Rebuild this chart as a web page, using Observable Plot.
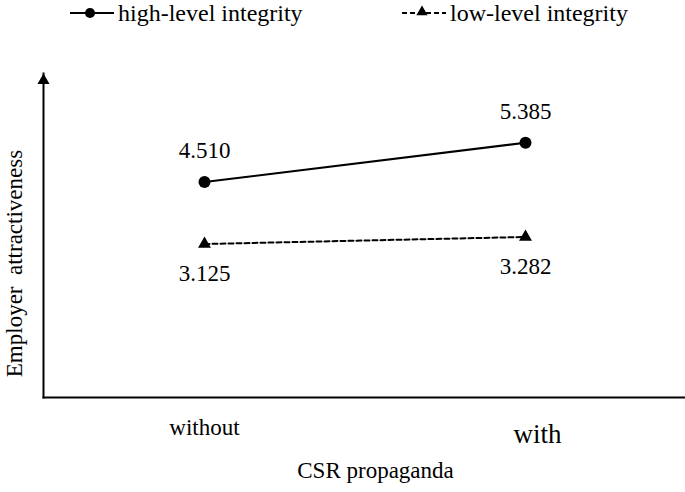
<!DOCTYPE html>
<html>
<head>
<meta charset="utf-8">
<script src="https://cdn.jsdelivr.net/npm/d3@7"></script>
<script src="https://cdn.jsdelivr.net/npm/@observablehq/plot@0.6"></script>
<style>
  html, body { margin: 0; padding: 0; background: #fff; }
  body { width: 685px; height: 492px; overflow: hidden; font-family: "Liberation Serif", "DejaVu Serif", serif; }
  #legend { position: relative; height: 30px; width: 685px; }
  .item { position: absolute; top: 0; height: 26px; display: flex; align-items: center; }
  .item span { font-size: 24px; color: #000; line-height: 26px; }
  #chart svg { display: block; }
  #chart svg text { font-family: "Liberation Serif", serif; font-variant: normal; }
</style>
</head>
<body>
<div id="legend"></div>
<div id="chart"></div>
<script>
// ---- data ----
const conditions = ["without", "with"];
const seriesNames = ["high-level integrity", "low-level integrity"];
const highValues = [4.510, 5.385];
const lowValues = [3.125, 3.282];
const xTitle = "CSR propaganda";
const yTitle = "Employer  attractiveness";

const rows = [
  ...conditions.map((c, i) => ({condition: c, series: seriesNames[0], value: highValues[i]})),
  ...conditions.map((c, i) => ({condition: c, series: seriesNames[1], value: lowValues[i]}))
];
const high = rows.filter(d => d.series === seriesNames[0]);
const low = rows.filter(d => d.series === seriesNames[1]);
const fmt = d3.format(".3f");

// ---- legend (HTML) ----
const legend = document.getElementById("legend");
const legendDefs = [
  {name: seriesNames[0], left: 70, dash: null, symbol: "circle"},
  {name: seriesNames[1], left: 402, dash: "5,3", symbol: "triangle"}
];
for (const L of legendDefs) {
  const item = document.createElement("div");
  item.className = "item";
  item.style.left = L.left + "px";
  const ns = "http://www.w3.org/2000/svg";
  const svg = document.createElementNS(ns, "svg");
  svg.setAttribute("width", 46); svg.setAttribute("height", 26);
  const line = document.createElementNS(ns, "line");
  line.setAttribute("x1", 0); line.setAttribute("x2", 44);
  line.setAttribute("y1", 13); line.setAttribute("y2", 13);
  line.setAttribute("stroke", "#000"); line.setAttribute("stroke-width", 2);
  if (L.dash) line.setAttribute("stroke-dasharray", L.dash);
  svg.appendChild(line);
  const sym = document.createElementNS(ns, "path");
  const s = L.symbol === "circle" ? d3.symbol(d3.symbolCircle, 80) : d3.symbol(d3.symbolTriangle, 55);
  sym.setAttribute("d", s());
  sym.setAttribute("transform", `translate(20,${L.symbol === "circle" ? 13 : 12})`);
  sym.setAttribute("fill", "#000");
  svg.appendChild(sym);
  item.appendChild(svg);
  const t = document.createElement("span");
  t.textContent = L.name;
  t.style.marginLeft = "2px";
  item.appendChild(t);
  legend.appendChild(item);
}

// ---- chart ----
const font = "Liberation Serif";
const txt = {fill: "#000", fontFamily: font, fontVariant: "normal", lineAnchor: "middle"};
const chart = Plot.plot({
  width: 685,
  height: 462,
  marginLeft: 43,
  marginRight: 0,
  marginTop: 43,
  marginBottom: 95,
  style: {fontFamily: font, background: "#fff", color: "#000"},
  x: {type: "point", domain: conditions, padding: 0.5, axis: null},
  y: {domain: [-0.3, 6.93], axis: null},
  marks: [
    // axes
    Plot.frame({anchor: "left", stroke: "#000", strokeWidth: 2}),
    Plot.frame({anchor: "bottom", stroke: "#000", strokeWidth: 2}),
    Plot.dot([0], {frameAnchor: "top-left", symbol: "triangle", r: 4.5, fill: "#000", stroke: null, dy: 7}),
    // lines
    Plot.line(high, {x: "condition", y: "value", stroke: "#000", strokeWidth: 2}),
    Plot.line(low, {x: "condition", y: "value", stroke: "#000", strokeWidth: 2, strokeDasharray: "5,3"}),
    Plot.dot(high, {x: "condition", y: "value", r: 6, fill: "#000", symbol: "circle"}),
    Plot.dot(low, {x: "condition", y: "value", r: 4.8, fill: "#000", symbol: "triangle"}),
    // value labels
    Plot.text(high, {x: "condition", y: "value", text: d => fmt(d.value), dy: -31, fontSize: 23, ...txt}),
    Plot.text(low, {x: "condition", y: "value", text: d => fmt(d.value), dy: 30, fontSize: 23, ...txt}),
    // category labels
    Plot.text(conditions.filter(c => c === "without"), {x: d => d, text: d => d, frameAnchor: "bottom", dy: 30, fontSize: 23, ...txt}),
    Plot.text(conditions.filter(c => c === "with"), {x: d => d, text: d => d, frameAnchor: "bottom", dy: 37, dx: 12, fontSize: 27, ...txt}),
    // axis titles
    Plot.text([xTitle], {text: d => d, frameAnchor: "bottom", dy: 73, dx: 11, fontSize: 23, ...txt}),
    Plot.text([yTitle], {text: d => d, frameAnchor: "left", textAnchor: "middle", dx: -29, dy: 28, rotate: -90, fontSize: 23, ...txt})
  ]
});
document.getElementById("chart").appendChild(chart);
</script>
</body>
</html>
